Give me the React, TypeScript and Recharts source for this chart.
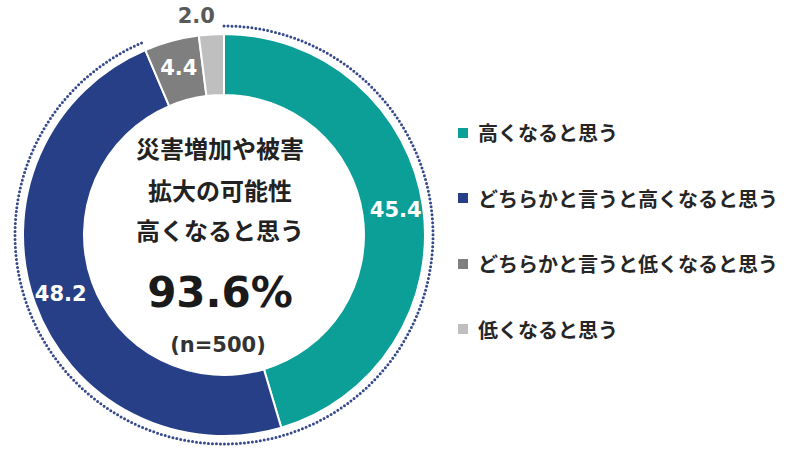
import React from 'react';
import { PieChart, Pie, Cell, Legend } from 'recharts';

const categories = [
  '高くなると思う',
  'どちらかと言うと高くなると思う',
  'どちらかと言うと低くなると思う',
  '低くなると思う',
];
const values = [45.4, 48.2, 4.4, 2.0];
const colors = ['#0b9f98', '#263f87', '#7f7f7f', '#bfbfbf'];
const highGroupCount = 2;
const centerLines = ['災害増加や被害', '拡大の可能性', '高くなると思う'];
const centerValue = '93.6%';
const sampleLabel = '(n=500)';

const pieData = categories.map((name, i) => ({ name, value: values[i] }));

const RAD = Math.PI / 180;
const JP = '"Noto Sans CJK JP", "Noto Sans", sans-serif';
const NUM = '"DejaVu Sans", Verdana, sans-serif';
const CX = 224;
const CY = 235;

const renderLabel = (props: any) => {
  const { cx, cy, midAngle, innerRadius, outerRadius, index, value } = props;
  const outside = index === categories.length - 1;
  const r = outside ? outerRadius + 18 : (innerRadius + outerRadius) / 2 + 3;
  let x = cx + r * Math.cos(-midAngle * RAD);
  const y = cy + r * Math.sin(-midAngle * RAD);
  if (outside) x -= 14;
  return (
    <text
      x={x}
      y={y}
      textAnchor="middle"
      dominantBaseline="central"
      fill={outside ? '#595959' : '#ffffff'}
      fontFamily={NUM}
      fontWeight="bold"
      fontSize={21}
    >
      {Number(value).toFixed(1)}
    </text>
  );
};

const DottedArc = (props: any) => {
  const { cx, cy, outerRadius, startAngle, endAngle } = props;
  const name = props.name ?? props.payload?.name;
  const idx = categories.indexOf(name);
  if (idx < 0 || idx >= highGroupCount) return <g />;
  const r = outerRadius;
  const pt = (a: number) => [cx + r * Math.cos(-a * RAD), cy + r * Math.sin(-a * RAD)];
  const [x1, y1] = pt(startAngle);
  const [x2, y2] = pt(endAngle);
  const large = Math.abs(startAngle - endAngle) > 180 ? 1 : 0;
  const sweep = startAngle > endAngle ? 1 : 0;
  return (
    <path
      d={`M${x1},${y1} A${r},${r} 0 ${large} ${sweep} ${x2},${y2}`}
      fill="none"
      stroke="#36498c"
      strokeWidth={3}
      strokeDasharray="0 4"
      strokeLinecap="round"
    />
  );
};

const CenterText = () => {
  const lineOffsets = [-88, -46, -6];
  return (
    <g>
      {centerLines.map((t, i) => (
        <text
          key={t}
          x={CX - 4}
          y={CY + lineOffsets[i]}
          textAnchor="middle"
          dominantBaseline="central"
          fill="#222222"
          fontFamily={JP}
          fontWeight="bold"
          fontSize={24}
        >
          {t}
        </text>
      ))}
      <text
        x={CX - 4}
        y={CY + 57}
        textAnchor="middle"
        dominantBaseline="central"
        fill="#1a1a1a"
        fontFamily={NUM}
        fontWeight="bold"
        fontSize={42}
      >
        {centerValue}
      </text>
      <text
        x={CX - 6}
        y={CY + 110}
        textAnchor="middle"
        dominantBaseline="central"
        fill="#333333"
        fontFamily={NUM}
        fontWeight="bold"
        fontSize={21}
      >
        {sampleLabel}
      </text>
    </g>
  );
};

const renderLegend = () => (
  <div>
    {categories.map((name, i) => (
      <div
        key={name}
        style={{
          height: 65.5,
          display: 'flex',
          alignItems: 'center',
          fontFamily: JP,
          fontWeight: 'bold',
          fontSize: 20,
          color: '#262626',
          whiteSpace: 'nowrap',
        }}
      >
        <span
          style={{
            display: 'inline-block',
            width: 10,
            height: 10,
            background: colors[i],
            marginRight: 10,
          }}
        />
        <span>{name}</span>
      </div>
    ))}
  </div>
);

export default function App() {
  return (
    <div style={{ width: 800, height: 462, background: '#fff' }}>
      <style>{'body{margin:0;background:#fff}'}</style>
      <PieChart width={800} height={462} margin={{ top: 0, right: 0, bottom: 0, left: 0 }}>
        <Pie
          data={pieData}
          dataKey="value"
          nameKey="name"
          cx={CX}
          cy={CY}
          innerRadius={140}
          outerRadius={201}
          startAngle={90}
          endAngle={-270}
          stroke="#ffffff"
          strokeWidth={2}
          label={renderLabel}
          labelLine={false}
          isAnimationActive={false}
        >
          {pieData.map((d, i) => (
            <Cell key={d.name} fill={colors[i]} />
          ))}
        </Pie>
        <Pie
          data={pieData}
          dataKey="value"
          nameKey="name"
          cx={CX}
          cy={CY}
          innerRadius={207}
          outerRadius={209}
          startAngle={90}
          endAngle={-270}
          fill="none"
          stroke="none"
          shape={DottedArc}
          legendType="none"
          isAnimationActive={false}
        />
        <CenterText />
        <Legend
          content={renderLegend}
          wrapperStyle={{ position: 'absolute', left: 458, top: 100, width: 340 }}
        />
      </PieChart>
    </div>
  );
}
